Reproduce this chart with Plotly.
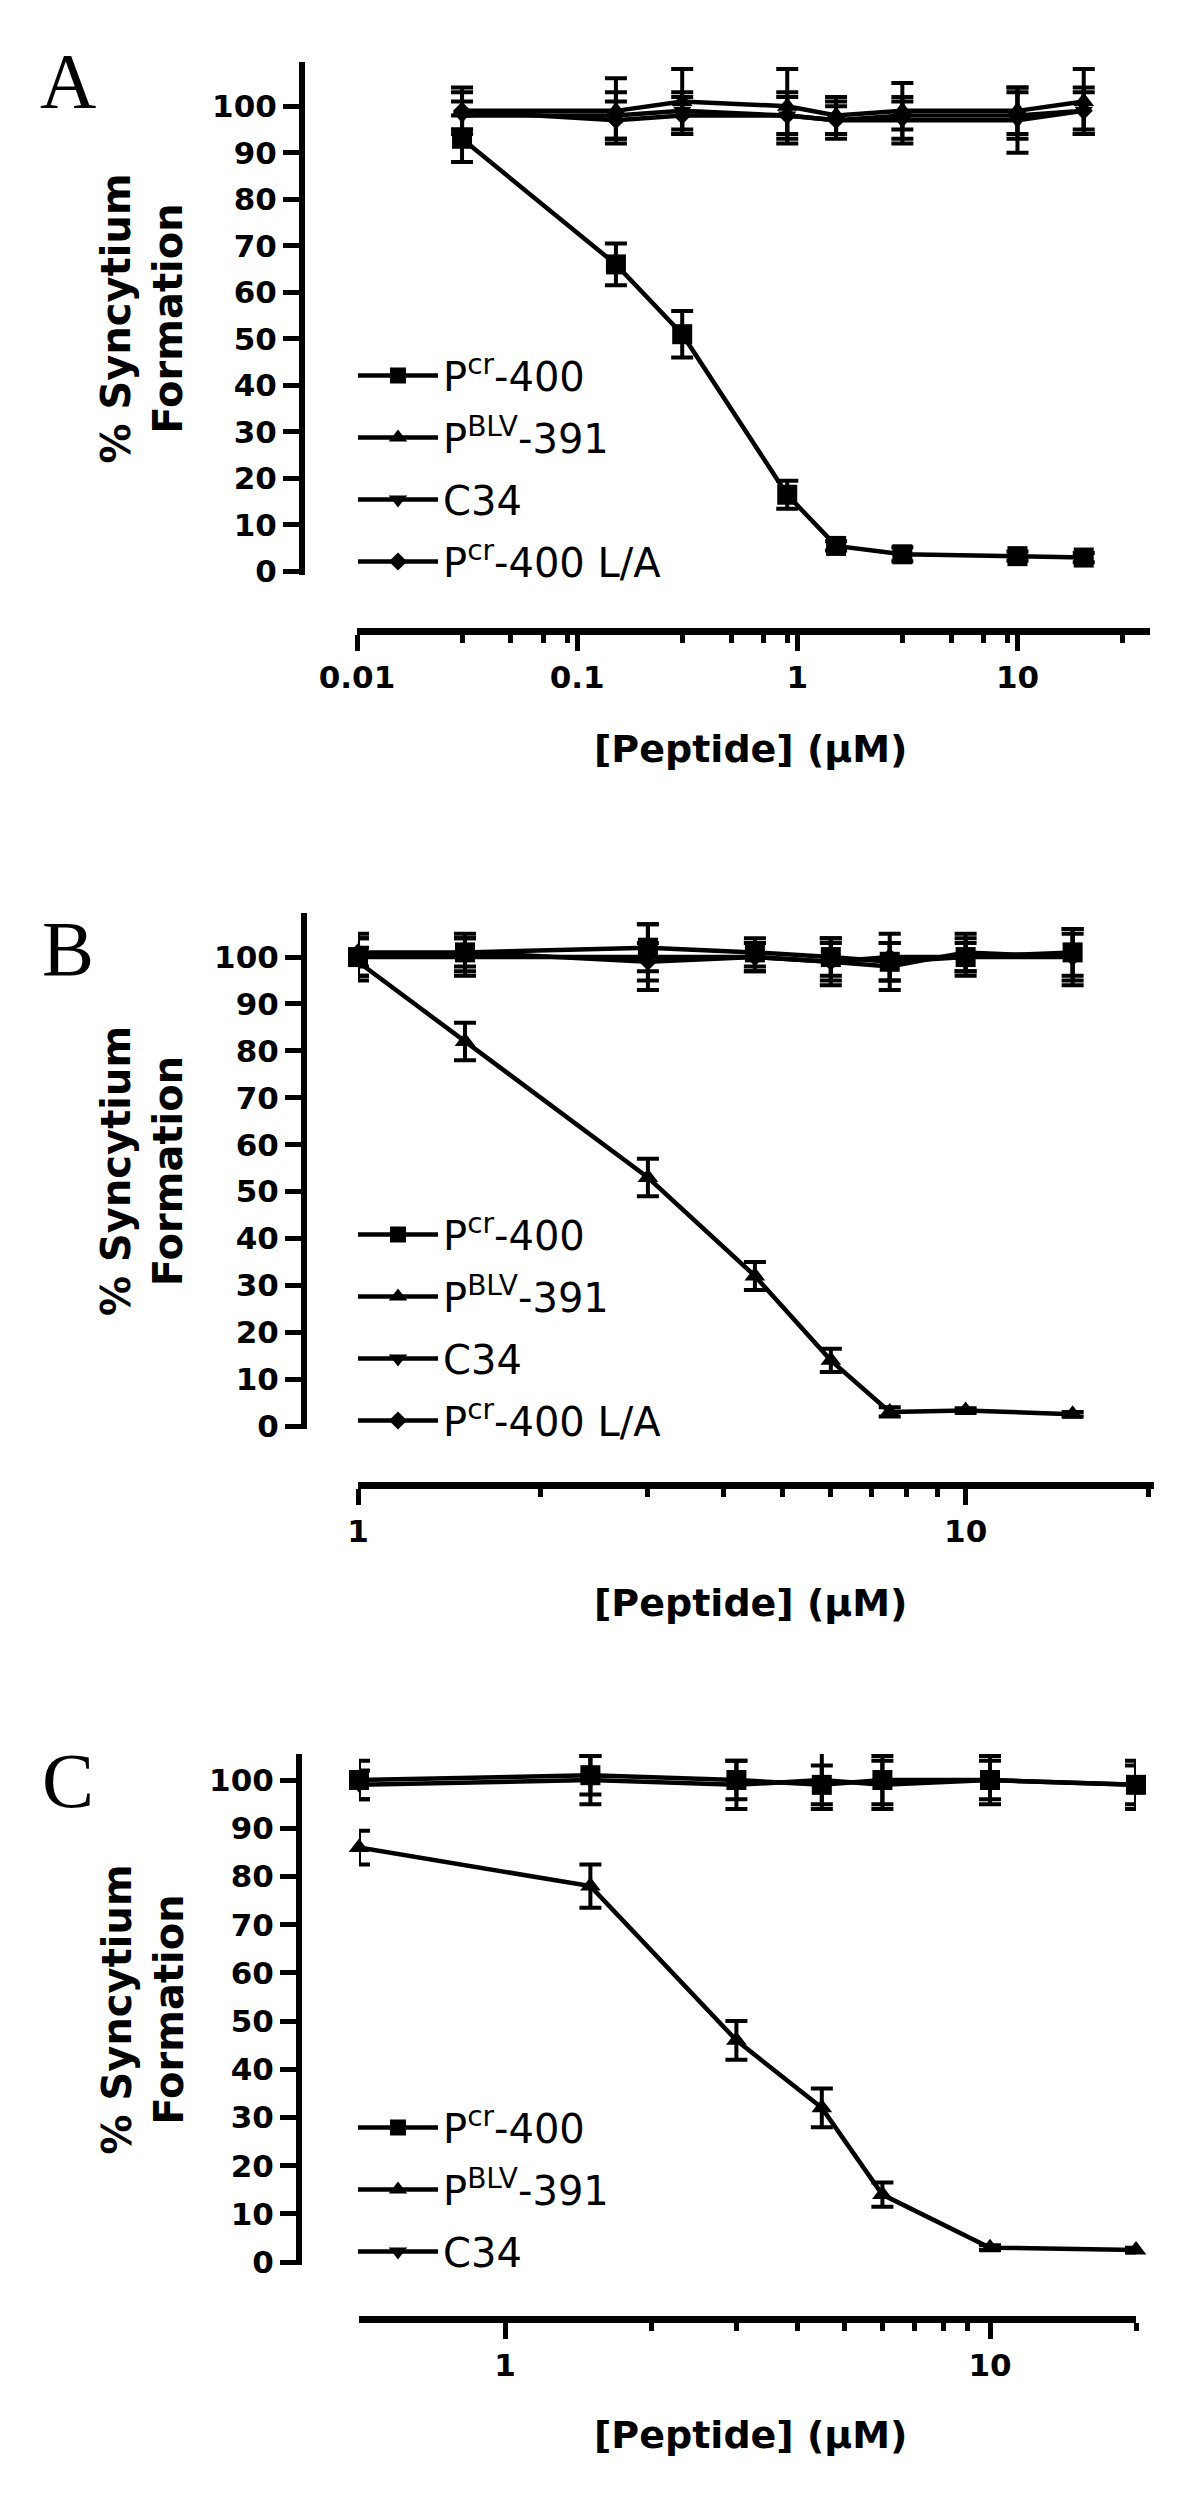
import plotly.graph_objects as go

W, H = 1200, 2496

# ---------------- data ----------------
# Panel A
a_x = [0.03, 0.15, 0.3, 0.9, 1.5, 3, 10, 20]
a_pcr400 = [93, 66, 51, 16.5, 5.5, 3.7, 3.3, 3.0]
a_pcr400_err = [5, 4.5, 5, 3, 1, 1.5, 1, 1]
a_pblv391 = [99, 99, 101, 100, 98, 99, 99, 101]
a_pblv391_err = [4, 7, 7, 8, 4, 6, 5, 7]
a_c34 = [98, 98, 99, 98, 97, 97, 97, 99]
a_c34_err = [3, 5, 4, 5, 4, 5, 7, 4]
a_pcr400la = [99, 97, 98, 98, 97, 98, 98, 99]
a_pcr400la_err = [5, 4, 4, 4, 3, 3, 5, 5]

# Panel B
b_x = [1, 1.5, 3, 4.5, 6, 7.5, 10, 15]
b_pcr400 = [100, 101, 102, 101, 100, 99, 100, 101]
b_pcr400_err = [5, 4, 5, 3, 4, 4, 4, 5]
b_pblv391 = [99, 82, 53, 32, 14, 3, 3.3, 2.5]
b_pblv391_err = [3, 4, 4, 3, 2.5, 1, 0.5, 0.5]
b_c34 = [100, 100, 100, 100, 99, 98, 101, 100]
b_c34_err = [4, 4, 7, 3, 5, 5, 4, 6]
b_pcr400la = [101, 101, 99, 100, 99, 100, 100, 100]
b_pcr400la_err = [3, 3, 4, 3, 4, 5, 3, 5]

# Panel C
c_x = [0.5, 1.5, 3, 4.5, 6, 10, 20]
c_pcr400 = [100, 101, 100, 99, 100, 100, 99]
c_pcr400_err = [4, 4, 4, 4, 5, 5, 5]
c_pblv391 = [86, 78, 46, 32, 14, 3, 2.5]
c_pblv391_err = [3.5, 4.5, 4, 4, 2.5, 0.5, 0.5]
c_c34 = [99, 100, 99, 100, 99, 100, 99]
c_c34_err = [3, 5, 5, 6, 5, 4, 4]

# tick labels
y_ticks = [0, 10, 20, 30, 40, 50, 60, 70, 80, 90, 100]
a_xticks = [0.01, 0.1, 1, 10]
a_xticktext = ["0.01", "0.1", "1", "10"]
a_xminor = [0.03, 0.05, 0.07, 0.09, 0.3, 0.5, 0.7, 0.9, 3, 5, 7, 9, 30]
b_xticks = [1, 10]
b_xticktext = ["1", "10"]
b_xminor = [2, 3, 4, 5, 6, 7, 8, 9, 20]
c_xticks = [1, 10]
c_xticktext = ["1", "10"]
c_xminor = [2, 3, 4, 5, 6, 7, 8, 9, 20]

NAME_PCR400 = "P<sup>cr</sup>-400"
NAME_PBLV391 = "P<sup>BLV</sup>-391"
NAME_C34 = "C34"
NAME_PCR400LA = "P<sup>cr</sup>-400 L/A"


def px(p):
    return p / W


def py(p):
    return 1 - p / H


fig = go.Figure()


def add(xs, ys, err, name, symbol, size, xa, ya, leg, grp):
    fig.add_trace(go.Scatter(
        x=xs, y=ys, mode="lines+markers", name=name,
        line=dict(color="black", width=4.5),
        marker=dict(symbol=symbol, size=size, color="black"),
        error_y=dict(type="data", array=err, visible=True, color="black",
                     thickness=4, width=11),
        xaxis=xa, yaxis=ya, legend=leg, legendgroup=grp, cliponaxis=False,
    ))


add(a_x, a_pcr400, a_pcr400_err, NAME_PCR400, "square", 20, "x", "y", "legend", "a1")
add(a_x, a_pblv391, a_pblv391_err, NAME_PBLV391, "triangle-up", 18, "x", "y", "legend", "a2")
add(a_x, a_c34, a_c34_err, NAME_C34, "triangle-down", 16, "x", "y", "legend", "a3")
add(a_x, a_pcr400la, a_pcr400la_err, NAME_PCR400LA, "diamond", 14, "x", "y", "legend", "a4")

add(b_x, b_pcr400, b_pcr400_err, NAME_PCR400, "square", 20, "x2", "y2", "legend2", "b1")
add(b_x, b_pblv391, b_pblv391_err, NAME_PBLV391, "triangle-up", 18, "x2", "y2", "legend2", "b2")
add(b_x, b_c34, b_c34_err, NAME_C34, "triangle-down", 16, "x2", "y2", "legend2", "b3")
add(b_x, b_pcr400la, b_pcr400la_err, NAME_PCR400LA, "diamond", 14, "x2", "y2", "legend2", "b4")

add(c_x, c_pcr400, c_pcr400_err, NAME_PCR400, "square", 20, "x3", "y3", "legend3", "c1")
add(c_x, c_pblv391, c_pblv391_err, NAME_PBLV391, "triangle-up", 18, "x3", "y3", "legend3", "c2")
add(c_x, c_c34, c_c34_err, NAME_C34, "triangle-down", 16, "x3", "y3", "legend3", "c3")

tickfont = dict(family="DejaVu Sans", size=31, color="black", weight="bold")


def xaxis(domain, rng, pos, tv, tt, minor):
    return dict(
        type="log", domain=domain, range=rng, anchor="free", position=pos,
        showline=True, linecolor="black", linewidth=7,
        ticks="outside", ticklen=16, tickwidth=5, tickcolor="black",
        tickmode="array", tickvals=tv, ticktext=tt, tickfont=tickfont,
        showgrid=False, zeroline=False, fixedrange=True, automargin=False,
        minor=dict(tickmode="array", tickvals=minor, ticks="outside",
                   ticklen=8, tickwidth=5, tickcolor="black", showgrid=False),
    )


def yaxis(domain, rng, pos):
    return dict(
        domain=domain, range=rng, anchor="free", position=pos,
        showline=True, linecolor="black", linewidth=6,
        ticks="outside", ticklen=16, tickwidth=5, tickcolor="black",
        tickmode="array", tickvals=y_ticks, tickfont=tickfont,
        showgrid=False, zeroline=False, fixedrange=True, automargin=False,
    )


legend_font = dict(family="DejaVu Sans", size=40, color="black")


def legend(x, ytop):
    return dict(x=x, y=ytop, xanchor="left", yanchor="top", font=legend_font,
                bgcolor="rgba(0,0,0,0)", tracegroupgap=7, itemwidth=80,
                traceorder="grouped", itemsizing="trace")


title_font = dict(family="DejaVu Sans", size=40, color="black", weight="bold")
xtitle_font = dict(family="DejaVu Sans", size=38, color="black", weight="bold")
letter_font = dict(family="Liberation Serif", size=78, color="black")

annotations = []
for letter, ly, ycenter, xt_y in [("A", 73, (54 + 567) / 2, 741),
                                   ("B", 940, (905 + 1421) / 2, 1595),
                                   ("C", 1772, (1746 + 2257) / 2, 2427)]:
    annotations.append(dict(text=letter, x=px(60), y=py(ly), xref="paper", yref="paper",
                            showarrow=False, xanchor="center", yanchor="middle", font=letter_font))
    annotations.append(dict(text="% Syncytium<br>Formation", x=px(134), y=py(ycenter),
                            xref="paper", yref="paper", showarrow=False, textangle=-90,
                            xanchor="center", yanchor="middle", font=title_font))
    annotations.append(dict(text="[Peptide] (µM)", x=px(742), y=py(xt_y),
                            xref="paper", yref="paper", showarrow=False,
                            xanchor="center", yanchor="middle", font=xtitle_font))

fig.update_layout(
    width=W, height=H,
    margin=dict(l=0, r=0, t=0, b=0, pad=0, autoexpand=False),
    paper_bgcolor="white", plot_bgcolor="white",
    xaxis=xaxis([px(349), px(1142)], [-2, 1.602], py(623), a_xticks, a_xticktext, a_xminor),
    yaxis=yaxis([py(567), py(54)], [-0.75, 109.5], px(294)),
    xaxis2=xaxis([px(350), px(1146)], [0, 1.31], py(1477), b_xticks, b_xticktext, b_xminor),
    yaxis2=yaxis([py(1421), py(905)], [-0.64, 109.4], px(296)),
    xaxis3=xaxis([px(351), px(1128)], [-0.30103, 1.30103], py(2311), c_xticks, c_xticktext, c_xminor),
    yaxis3=yaxis([py(2257), py(1746)], [-0.6, 105.4], px(291)),
    legend=legend(px(345), py(335)),
    legend2=legend(px(345), py(1194)),
    legend3=legend(px(345), py(2087)),
    annotations=annotations,
    showlegend=True,
)

fig.write_html("out.html")
